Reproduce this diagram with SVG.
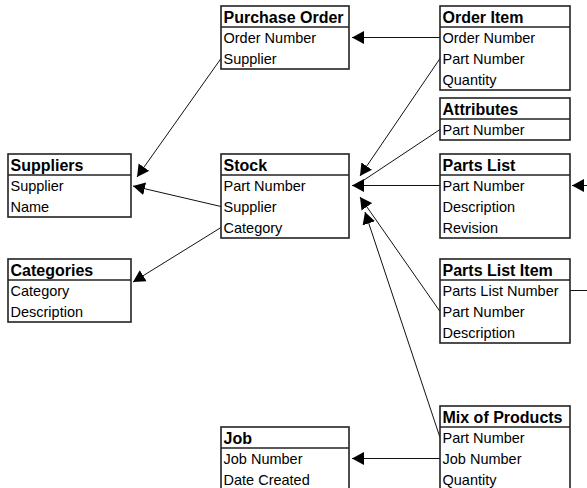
<svg xmlns="http://www.w3.org/2000/svg" width="587" height="488" viewBox="0 0 587 488">
<style>
.box{fill:#fff;stroke:#222;stroke-width:1.6}
.div{stroke:#222;stroke-width:1.6}
.h{font-family:"Liberation Sans",Arial,sans-serif;font-weight:bold;font-size:16px;fill:#000}
.f{font-family:"Liberation Sans",Arial,sans-serif;font-size:14.5px;fill:#000}
.c{fill:none;stroke:#111;stroke-width:1}
</style>
<defs>
<marker id="ah" markerUnits="userSpaceOnUse" markerWidth="14" markerHeight="14" refX="12" refY="7" orient="auto">
<path d="M0,0.5 L12,7 L0,13.5 z" fill="#000"/>
</marker>
</defs>
<rect width="587" height="488" fill="#fff"/>

<g id="connectors">
<line class="c" x1="440" y1="37.5" x2="352" y2="37.5" marker-end="url(#ah)"/>
<line class="c" x1="440" y1="58.5" x2="360" y2="176" marker-end="url(#ah)"/>
<line class="c" x1="440" y1="129.5" x2="358" y2="184"/>
<line class="c" x1="440" y1="185.5" x2="352" y2="185.5" marker-end="url(#ah)"/>
<line class="c" x1="440" y1="311.5" x2="360" y2="197" marker-end="url(#ah)"/>
<line class="c" x1="440" y1="437.5" x2="365" y2="212" marker-end="url(#ah)"/>
<polyline class="c" points="570,290.5 600,290.5 600,185.5 572,185.5" marker-end="url(#ah)"/>
<line class="c" x1="221" y1="206.5" x2="133" y2="186" marker-end="url(#ah)"/>
<line class="c" x1="221" y1="58.5" x2="137" y2="177" marker-end="url(#ah)"/>
<line class="c" x1="221" y1="227.5" x2="133" y2="282" marker-end="url(#ah)"/>
<line class="c" x1="440" y1="458.5" x2="352" y2="458.5" marker-end="url(#ah)"/>
</g>

<g id="purchase-order">
<rect class="box" x="221" y="6" width="128" height="63"/>
<line class="div" x1="221" y1="27" x2="349" y2="27"/>
<text class="h" x="223.5" y="23">Purchase Order</text>
<text class="f" x="223.5" y="43">Order Number</text>
<text class="f" x="223.5" y="64">Supplier</text>
</g>

<g id="order-item">
<rect class="box" x="440" y="6" width="130" height="84"/>
<line class="div" x1="440" y1="27" x2="570" y2="27"/>
<text class="h" x="442.5" y="23">Order Item</text>
<text class="f" x="442.5" y="43">Order Number</text>
<text class="f" x="442.5" y="64">Part Number</text>
<text class="f" x="442.5" y="85">Quantity</text>
</g>

<g id="attributes">
<rect class="box" x="440" y="98" width="130" height="42"/>
<line class="div" x1="440" y1="119" x2="570" y2="119"/>
<text class="h" x="442.5" y="115">Attributes</text>
<text class="f" x="442.5" y="135">Part Number</text>
</g>

<g id="suppliers">
<rect class="box" x="8" y="154" width="123" height="63"/>
<line class="div" x1="8" y1="175" x2="131" y2="175"/>
<text class="h" x="10.5" y="171">Suppliers</text>
<text class="f" x="10.5" y="191">Supplier</text>
<text class="f" x="10.5" y="212">Name</text>
</g>

<g id="stock">
<rect class="box" x="221" y="154" width="128" height="84"/>
<line class="div" x1="221" y1="175" x2="349" y2="175"/>
<text class="h" x="223.5" y="171">Stock</text>
<text class="f" x="223.5" y="191">Part Number</text>
<text class="f" x="223.5" y="212">Supplier</text>
<text class="f" x="223.5" y="233">Category</text>
</g>

<g id="parts-list">
<rect class="box" x="440" y="154" width="130" height="84"/>
<line class="div" x1="440" y1="175" x2="570" y2="175"/>
<text class="h" x="442.5" y="171">Parts List</text>
<text class="f" x="442.5" y="191">Part Number</text>
<text class="f" x="442.5" y="212">Description</text>
<text class="f" x="442.5" y="233">Revision</text>
</g>

<g id="categories">
<rect class="box" x="8" y="259" width="123" height="63"/>
<line class="div" x1="8" y1="280" x2="131" y2="280"/>
<text class="h" x="10.5" y="276">Categories</text>
<text class="f" x="10.5" y="296">Category</text>
<text class="f" x="10.5" y="317">Description</text>
</g>

<g id="parts-list-item">
<rect class="box" x="440" y="259" width="130" height="84"/>
<line class="div" x1="440" y1="280" x2="570" y2="280"/>
<text class="h" x="442.5" y="276">Parts List Item</text>
<text class="f" x="442.5" y="296">Parts List Number</text>
<text class="f" x="442.5" y="317">Part Number</text>
<text class="f" x="442.5" y="338">Description</text>
</g>

<g id="mix-of-products">
<rect class="box" x="440" y="406" width="130" height="84"/>
<line class="div" x1="440" y1="427" x2="570" y2="427"/>
<text class="h" x="442.5" y="423">Mix of Products</text>
<text class="f" x="442.5" y="443">Part Number</text>
<text class="f" x="442.5" y="464">Job Number</text>
<text class="f" x="442.5" y="485">Quantity</text>
</g>

<g id="job">
<rect class="box" x="221" y="427" width="128" height="63"/>
<line class="div" x1="221" y1="448" x2="349" y2="448"/>
<text class="h" x="223.5" y="444">Job</text>
<text class="f" x="223.5" y="464">Job Number</text>
<text class="f" x="223.5" y="485">Date Created</text>
</g>
</svg>
